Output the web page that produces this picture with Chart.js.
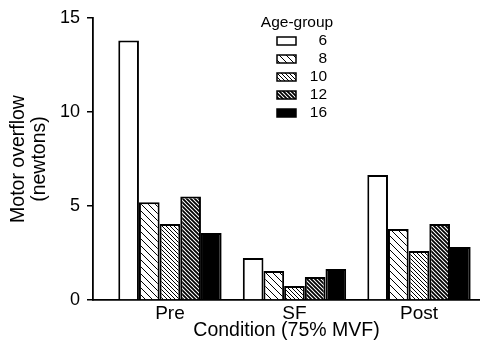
<!DOCTYPE html>
<html>
<head>
<meta charset="utf-8">
<script src="https://cdn.jsdelivr.net/npm/chart.js@4.4.1/dist/chart.umd.min.js"></script>
<style>
  html, body { margin: 0; padding: 0; background: #fff; }
  #wrap { width: 480px; height: 346px; }
</style>
</head>
<body>
<div id="wrap"><canvas id="overflowChart"></canvas></div>
<script>
const conditions = ['Pre', 'SF', 'Post'];
const ageGroups = ['6', '8', '10', '12', '16'];
const age6 = [13.8, 2.23, 6.65];
const age8 = [5.2, 1.54, 3.78];
const age10 = [4.04, 0.74, 2.6];
const age12 = [5.5, 1.22, 4.04];
const age16 = [3.56, 1.65, 2.82];
const yTicks = [0, 5, 10, 15];

const FONT = "'Liberation Sans', Arial, sans-serif";

// diagonal hatch tile, lines running top-left to bottom-right
function makeHatch(size, lw) {
    const c = document.createElement('canvas');
    c.width = size;
    c.height = size;
    const g = c.getContext('2d');
    g.fillStyle = '#fff';
    g.fillRect(0, 0, size, size);
    g.strokeStyle = '#000';
    g.lineWidth = lw;
    g.beginPath();
    g.moveTo(-1, -1); g.lineTo(size + 1, size + 1);
    g.moveTo(-1, size - 1); g.lineTo(1, size + 1);
    g.moveTo(size - 1, -1); g.lineTo(size + 1, 1);
    g.stroke();
    return g.createPattern(c, 'repeat');
}

const fills = ['#fff', makeHatch(7, 1), makeHatch(4, 1), makeHatch(4, 1.8), '#000'];
const series = [age6, age8, age10, age12, age16];

const datasets = series.map((vals, i) => ({
    label: ageGroups[i],
    data: vals.map((v, j) => ({ x: j, y: v })),
    backgroundColor: fills[i],
    borderColor: '#000',
    borderWidth: 2,
    categoryPercentage: 0.83,
    barPercentage: 1
}));

// legend box drawn by hand, reads labels and fills from the datasets
const ageLegend = {
    id: 'ageLegend',
    afterDraw(chart) {
        const ctx = chart.ctx;
        ctx.save();
        ctx.fillStyle = '#000';
        ctx.font = '15.5px ' + FONT;
        ctx.textBaseline = 'middle';
        ctx.textAlign = 'center';
        ctx.fillText('Age-group', 297, 23);
        chart.data.datasets.forEach((ds, i) => {
            const y = 41 + i * 18;
            ctx.fillStyle = ds.backgroundColor;
            ctx.fillRect(277, y - 4, 19, 8);
            ctx.strokeStyle = '#000';
            ctx.lineWidth = 1.5;
            ctx.strokeRect(277, y - 4, 19, 8);
            ctx.fillStyle = '#000';
            ctx.textAlign = 'right';
            ctx.fillText(ds.label, 327, y);
        });
        ctx.restore();
    }
};

new Chart(document.getElementById('overflowChart'), {
    type: 'bar',
    data: { datasets: datasets },
    plugins: [ageLegend],
    options: {
        responsive: true,
        maintainAspectRatio: false,
        animation: false,
        layout: { padding: { top: 18, left: 0, right: 0, bottom: 0 } },
        plugins: {
            legend: { display: false },
            tooltip: { enabled: false }
        },
        scales: {
            x: {
                type: 'linear',
                offset: false,
                min: -0.618,
                max: 2.49,
                afterBuildTicks: s => { s.ticks = conditions.map((c, i) => ({ value: i })); },
                afterFit: s => { s.height = 46; },
                grid: { display: true, offset: false, drawOnChartArea: false, drawTicks: false },
                border: { display: true, color: '#000', width: 1.8 },
                ticks: {
                    color: '#000',
                    padding: 2,
                    font: { family: FONT, size: 19 },
                    callback: v => conditions[v]
                },
                title: {
                    display: true,
                    text: 'Condition (75% MVF)',
                    color: '#000',
                    font: { family: FONT, size: 19.5 },
                    padding: { top: 0, bottom: 4 }
                }
            },
            y: {
                min: 0,
                max: 15,
                afterBuildTicks: s => { s.ticks = yTicks.map(v => ({ value: v })); },
                afterFit: s => { s.width = 93; },
                grid: { drawOnChartArea: false, drawTicks: true, tickLength: 6, color: '#000', lineWidth: 1.5 },
                border: { display: true, color: '#000', width: 1.8 },
                ticks: {
                    color: '#000',
                    padding: 7,
                    font: { family: FONT, size: 18 }
                },
                title: {
                    display: true,
                    text: ['Motor overflow', '(newtons)'],
                    color: '#000',
                    font: { family: FONT, size: 19.5, lineHeight: 1.03 },
                    padding: { top: 9, bottom: 0 }
                }
            }
        }
    }
});
</script>
</body>
</html>
